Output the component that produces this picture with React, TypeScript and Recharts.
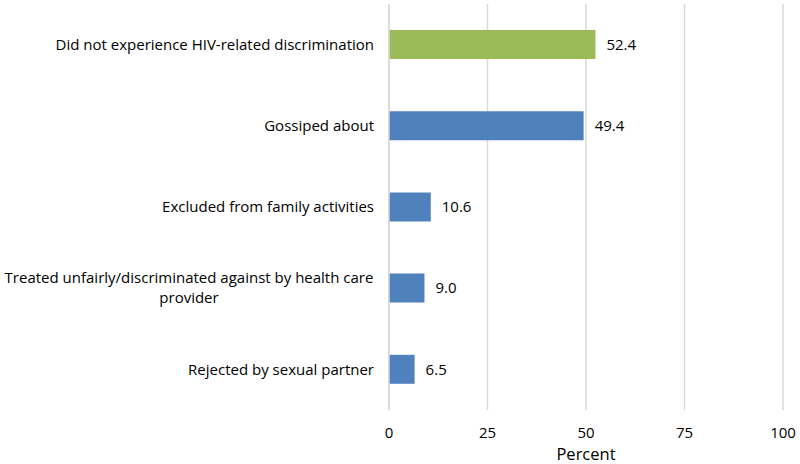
import React from "react";
import { BarChart, Bar, XAxis, YAxis, CartesianGrid, Cell, LabelList } from "recharts";

const categories = [
  "Did not experience HIV-related discrimination",
  "Gossiped about",
  "Excluded from family activities",
  "Treated unfairly/discriminated against by health care provider",
  "Rejected by sexual partner",
];
const categoryLines: string[][] = [
  ["Did not experience HIV-related discrimination"],
  ["Gossiped about"],
  ["Excluded from family activities"],
  ["Treated unfairly/discriminated against by health care", "provider"],
  ["Rejected by sexual partner"],
];
const values = [52.4, 49.4, 10.6, 9.0, 6.5];
const barColors = ["#9BBB59", "#4F81BD", "#4F81BD", "#4F81BD", "#4F81BD"];
const xTicks = [0, 25, 50, 75, 100];

const data = categories.map((c, i) => ({ name: c, value: values[i] }));

const FONT = "'Open Sans', sans-serif";
const FS = 15;

const CategoryTick = (props: any) => {
  const { x, y, payload } = props;
  const idx = categories.indexOf(payload.value);
  const lines = categoryLines[idx] || [payload.value];
  if (lines.length === 1) {
    return (
      <text x={x} y={y} dy="0.35em" textAnchor="end" fontSize={FS} fill="#000" fontFamily={FONT}>
        {lines[0]}
      </text>
    );
  }
  const lh = 20;
  const start = -((lines.length - 1) * lh) / 2;
  const cx = x - 185;
  return (
    <text x={cx} y={y} textAnchor="middle" fontSize={FS} fill="#000" fontFamily={FONT}>
      {lines.map((l, i) => (
        <tspan key={i} x={cx} dy={i === 0 ? start + 5 : lh}>
          {l}
        </tspan>
      ))}
    </text>
  );
};

export default function App() {
  return (
    <div style={{ position: "absolute", left: 0, top: 0, width: 800, height: 464, background: "#fff" }}>
      <BarChart
        width={800}
        height={464}
        data={data}
        layout="vertical"
        margin={{ top: 4, right: 17, left: 0, bottom: 0 }}
        barCategoryGap={0}
      >
        <CartesianGrid horizontal={false} vertical={true} stroke="#D9D9D9" strokeWidth={1.5} />
        <XAxis
          type="number"
          domain={[0, 100]}
          ticks={xTicks}
          axisLine={false}
          tickLine={false}
          tickSize={0}
          tickMargin={17}
          height={54}
          tick={{ fontSize: FS, fill: "#000", fontFamily: FONT }}
          label={{ value: "Percent", position: "insideBottom", offset: 4, fontSize: 16.5, fill: "#000", fontFamily: FONT }}
        />
        <YAxis
          type="category"
          dataKey="name"
          width={389}
          axisLine={{ stroke: "#D9D9D9", strokeWidth: 1.5 }}
          tickLine={false}
          tickSize={0}
          tickMargin={15}
          tick={<CategoryTick />}
          interval={0}
        />
        <Bar dataKey="value" barSize={29} isAnimationActive={false}>
          {data.map((d, i) => (
            <Cell key={i} fill={barColors[i]} />
          ))}
          <LabelList
            dataKey="value"
            position="right"
            offset={11}
            formatter={(v: any) => Number(v).toFixed(1)}
            style={{ fontSize: FS, fill: "#000", fontFamily: FONT }}
          />
        </Bar>
      </BarChart>
    </div>
  );
}
